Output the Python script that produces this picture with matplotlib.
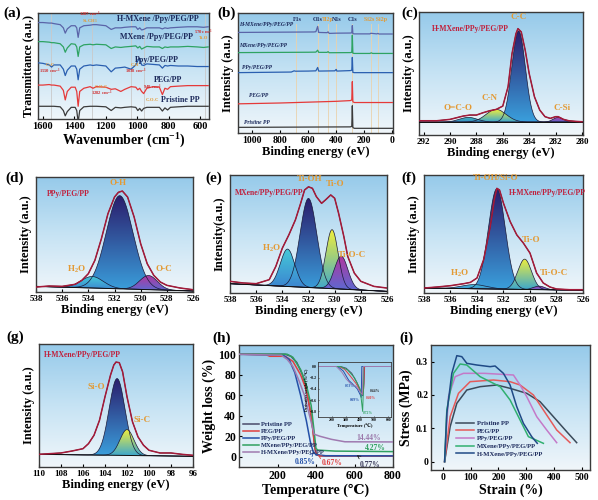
import numpy as np
import matplotlib
matplotlib.use('Agg')
import matplotlib.pyplot as plt
from matplotlib.colors import LinearSegmentedColormap
from matplotlib.patches import PathPatch

plt.rcParams['font.family'] = ['Liberation Serif', 'DejaVu Serif']
plt.rcParams['font.weight'] = 'bold'
plt.rcParams['axes.labelweight'] = 'bold'
plt.rcParams['mathtext.fontset'] = 'custom'
plt.rcParams['mathtext.rm'] = 'Liberation Serif:bold'
plt.rcParams['mathtext.it'] = 'Liberation Serif:bold:italic'
plt.rcParams['mathtext.bf'] = 'Liberation Serif:bold'

# ---------------- (a) FTIR ----------------
wn = [1630, 1600, 1560, 1545, 1530, 1490, 1470, 1458, 1445, 1420, 1395, 1385, 1376, 1366, 1340,
      1300, 1282, 1260, 1200, 1166, 1140, 1105, 1080, 1040, 1010, 997, 985, 973, 960, 940,
      900, 860, 841, 825, 808, 790, 740, 680, 620, 580, 550]
ftir_pp = [12, 12, 12, 12, 12, 11.5, 8, 3, 7, 11, 11, 8, -3, 8, 11.5,
           12, 12, 12, 11.5, 8, 11, 10.5, 11, 11.5, 11, 8, 10, 7.5, 10, 11,
           11, 11, 7.5, 10.5, 8.5, 11, 11.5, 12, 12, 12, 12]
ftir_peg = [32, 32, 32.5, 32, 32, 31, 27, 18, 26, 30, 30, 26, 12, 26, 29,
            30.5, 29, 30.5, 30, 28, 28.5, 26, 28, 30.5, 30, 27.5, 29, 26, 24, 29,
            30.5, 30, 23, 29, 28, 30.5, 31, 31.5, 31.5, 31.5, 31.5]
ftir_ppy = [53, 52.5, 51, 49, 51, 51, 47, 41, 46, 50, 50, 47, 37, 47, 50,
            51, 50.5, 51, 50, 44.5, 48, 48.5, 49, 47, 51, 55, 57, 51, 50.5, 52,
            51.5, 51, 48, 50.5, 50, 50.5, 50, 50, 49.5, 49.5, 49.5]
ftir_mx = [73, 73, 72.5, 72, 72, 71, 68, 63, 67, 71, 70.5, 68, 59, 68, 70,
           70.5, 70, 70.5, 70, 66.5, 68, 67.5, 68, 68.5, 69, 67, 68.5, 66, 67, 68.5,
           68, 68, 66.5, 68, 67.5, 68, 68, 68.5, 68, 67.5, 68]
ftir_hmx = [91, 91, 90.5, 90.5, 90, 89, 86, 81, 85, 88, 88, 86, 77, 86, 88,
            88.5, 89, 89, 88, 84.5, 86, 86, 86.5, 87, 87, 84.5, 86, 84, 84.5, 86,
            86, 86, 85, 86, 85.5, 86, 86.5, 87, 87, 86.5, 87]
ftir_guides = [1550, 1287, 1038, 960, 570]

# ---------------- (b) XPS survey ----------------
sv_pp_x = [1100, 700, 500, 300, 289, 285, 281, 270, 0]
sv_pp_y = [4.7, 4.9, 5.0, 5.1, 5.5, 22.7, 4.5, 3.9, 3.9]
sv_peg_x = [1100, 800, 600, 400, 300, 289, 285, 281, 270, 0]
sv_peg_y = [24.3, 25.0, 25.7, 26.4, 27.0, 27.5, 42.8, 26.0, 25.4, 25.4]
sv_ppy_x = [1100, 720, 700, 690, 600, 545, 532, 525, 410, 400, 395, 300, 289, 285, 281, 270, 0]
sv_ppy_y = [50.3, 50.8, 51.8, 51.5, 51.6, 51.8, 54.6, 51.6, 51.8, 53.0, 51.6, 52.0, 52.3, 63.0, 50.5, 50.3, 50.3]
sv_mx_x = [1100, 600, 545, 532, 525, 465, 458, 450, 300, 289, 285, 281, 270, 160, 150, 140, 0]
sv_mx_y = [67.0, 67.3, 67.4, 69.0, 67.2, 67.2, 67.8, 66.9, 67.0, 67.2, 81.5, 66.5, 66.3, 66.3, 66.8, 66.3, 66.3]
sv_hmx_x = [1100, 560, 545, 532, 525, 465, 458, 450, 400, 300, 289, 285, 281, 270, 160, 153, 110, 102, 95, 0]
sv_hmx_y = [83.8, 84.2, 84.4, 88.8, 83.8, 83.6, 84.3, 83.0, 83.2, 83.3, 83.5, 89.5, 82.8, 82.6, 82.6, 83.1, 82.6, 83.0, 82.5, 82.5]
sv_lines = [686, 532, 458, 400, 285, 153, 102]
sv_peak_names = ['F1s', 'O1s', 'Ti2p', 'N1s', 'C1s', 'Si2s Si2p']
sv_peak_pos = [675, 535, 462, 395, 282, 120]

# ---------------- (c) C1s ----------------
c_env_x = [292.3, 291, 290, 289, 288.5, 288, 287.5, 287, 286.5, 286, 285.6, 285.3, 285, 284.85,
           284.6, 284.3, 284, 283.6, 283.2, 282.8, 282.4, 282, 281.8, 281.4, 281, 280.5, 280]
c_env_y = [0.116, 0.116, 0.127, 0.154, 0.162, 0.162, 0.181, 0.197, 0.208, 0.235, 0.392, 0.662, 0.824, 0.865,
           0.838, 0.689, 0.5, 0.311, 0.203, 0.149, 0.135, 0.149, 0.149, 0.127, 0.116, 0.111, 0.108]
c_bg = (0.105, 0.105)
c_names = ['C-C', 'C-N', 'O=C-O', 'C-Si']
c_center = [284.8, 286.5, 288.6, 281.8]
c_height = [0.741, 0.103, 0.038, 0.038]
c_fwhm = [1.2, 1.8, 1.6, 0.9]

# ---------------- (d) O1s PPy/PEG/PP ----------------
d_env_x = [538, 537, 536, 535, 534.5, 534, 533.5, 533, 532.5, 532, 531.7, 531.4, 531, 530.5,
           530, 529.5, 529, 528.5, 528, 527, 526]
d_env_y = [0.043, 0.052, 0.049, 0.067, 0.101, 0.159, 0.275, 0.464, 0.681, 0.826, 0.867, 0.878, 0.826, 0.652,
           0.42, 0.246, 0.145, 0.087, 0.058, 0.035, 0.02]
d_bg = (0.049, 0.009)
d_names = ['O-H', 'H$_2$O', 'O-C']
d_center = [531.6, 533.7, 529.4]
d_height = [0.81, 0.10, 0.123]
d_fwhm = [2.4, 2.0, 1.6]

# ---------------- (e) O1s MXene/PPy/PEG/PP ----------------
e_env_x = [538, 537, 536, 535, 534.5, 534, 533.5, 533, 532.6, 532.3, 532, 531.7, 531.4, 531,
           530.7, 530.3, 530, 529.7, 529.3, 529, 528.5, 528, 527, 526]
e_env_y = [0.099, 0.085, 0.079, 0.113, 0.225, 0.38, 0.493, 0.62, 0.76, 0.873, 0.9, 0.887, 0.817, 0.76,
           0.789, 0.831, 0.803, 0.676, 0.479, 0.31, 0.169, 0.099, 0.056, 0.042]
e_bg = (0.079, 0.014)
e_names = ['Ti-OH', 'H$_2$O', 'Ti-O', 'Ti-O-C']
e_center = [532.0, 533.6, 530.2, 529.5]
e_height = [0.755, 0.317, 0.50, 0.28]
e_fwhm = [1.5, 1.3, 1.1, 1.2]

# ---------------- (f) O1s H-MXene/PPy/PEG/PP ----------------
f_env_x = [538, 537, 536, 535, 534.5, 534, 533.5, 533, 532.7, 532.5, 532.3, 532, 531.5, 531,
           530.5, 530, 529.5, 529, 528.5, 528, 527, 526]
f_env_y = [0.042, 0.051, 0.062, 0.079, 0.09, 0.127, 0.282, 0.563, 0.789, 0.887, 0.873, 0.76, 0.606, 0.493,
           0.423, 0.338, 0.169, 0.085, 0.051, 0.034, 0.028, 0.028]
f_bg = (0.042, 0.023)
f_names = ['Ti-OH/Si-O', 'H$_2$O', 'Ti-O', 'Ti-O-C']
f_center = [532.5, 534.2, 530.4, 529.3]
f_height = [0.85, 0.035, 0.257, 0.03]
f_fwhm = [1.5, 2.2, 1.2, 1.0]

# ---------------- (g) Si2p ----------------
g_env_x = [110, 108, 107, 106, 105.5, 105, 104.5, 104, 103.5, 103.2, 103, 102.7, 102.4, 102,
           101.5, 101, 100.5, 100, 99, 98, 97, 96]
g_env_y = [0.103, 0.114, 0.13, 0.149, 0.19, 0.258, 0.38, 0.571, 0.747, 0.829, 0.853, 0.848, 0.774, 0.571,
           0.367, 0.245, 0.177, 0.136, 0.114, 0.114, 0.103, 0.095]
g_bg = (0.103, 0.087)
g_names = ['Si-O', 'Si-C']
g_center = [102.9, 102.0]
g_height = [0.624, 0.21]
g_fwhm = [1.7, 1.5]

# ---------------- (h) TGA ----------------
tga_names = ['Pristine PP', 'PEG/PP', 'PPy/PEG/PP', 'MXene/PPy/PEG/PP', 'H-MXene/PPy/PEG/PP']
tga_pp_t = [0, 240, 270, 300, 330, 350, 370, 385, 395, 400, 420, 500, 800]
tga_pp_w = [100, 100, 98, 92, 80, 65, 45, 25, 8, 2, 0.9, 0.8, 0.77]
tga_peg_t = [0, 140, 160, 240, 280, 320, 350, 375, 390, 400, 420, 800]
tga_peg_w = [100, 99.5, 98, 98, 93, 80, 65, 40, 15, 3, 1, 0.67]
tga_ppy_t = [0, 230, 260, 290, 320, 350, 370, 385, 400, 450, 800]
tga_ppy_w = [100, 99, 95, 82, 60, 35, 15, 5, 2, 1, 0.85]
tga_mx_t = [0, 250, 280, 320, 350, 375, 390, 400, 410, 500, 800]
tga_mx_w = [100, 100, 97, 85, 70, 50, 25, 8, 6.5, 5.5, 5.0]
tga_hmx_t = [0, 220, 250, 280, 310, 340, 360, 380, 390, 420, 480, 550, 800]
tga_hmx_w = [100, 99, 95, 88, 75, 60, 45, 30, 22, 20, 17, 14.6, 14.44]

dtg_pp_t = [100, 260, 300, 340, 380, 410, 420, 428, 432, 620]
dtg_pp_v = [0, 0, -0.03, -0.12, -0.30, -0.50, -0.52, -0.30, 0, 0]
dtg_peg_t = [100, 250, 290, 330, 370, 400, 415, 425, 430, 620]
dtg_peg_v = [0, 0, -0.05, -0.17, -0.30, -0.42, -0.50, -0.40, 0, 0]
dtg_ppy_t = [100, 240, 280, 320, 350, 380, 400, 408, 412, 620]
dtg_ppy_v = [0, 0, -0.08, -0.25, -0.32, -0.40, -0.50, -0.55, 0, 0]
dtg_mx_t = [100, 260, 310, 360, 400, 418, 422, 424, 620]
dtg_mx_v = [0, 0, -0.06, -0.20, -0.40, -0.80, -0.50, 0, 0]
dtg_hmx_t = [100, 230, 270, 300, 330, 370, 400, 415, 422, 620]
dtg_hmx_v = [0, 0, -0.10, -0.22, -0.30, -0.35, -0.45, -0.50, 0, 0]

# ---------------- (i) stress-strain ----------------
ss_pp_x = [6, 26, 50, 86, 134, 194, 242, 302, 350, 398, 446, 482]
ss_pp_y = [0, 0.105, 0.175, 0.215, 0.225, 0.23, 0.22, 0.205, 0.18, 0.135, 0.09, 0.057]
ss_peg_x = [6, 26, 56, 98, 182, 242, 278, 326, 362, 410, 458]
ss_peg_y = [0, 0.135, 0.205, 0.24, 0.245, 0.24, 0.23, 0.2, 0.155, 0.095, 0.057]
ss_ppy_x = [6, 20, 44, 74, 150, 254, 278, 302, 338, 374, 410]
ss_ppy_y = [0, 0.195, 0.255, 0.265, 0.265, 0.26, 0.23, 0.195, 0.135, 0.095, 0.057]
ss_mx_x = [6, 14, 38, 62, 86, 134, 206, 242, 278, 308, 362]
ss_mx_y = [0, 0.155, 0.265, 0.293, 0.29, 0.255, 0.225, 0.185, 0.125, 0.075, 0.055]
ss_hmx_x = [6, 14, 32, 50, 68, 86, 122, 170, 188, 218, 242, 266, 290, 320, 340]
ss_hmx_y = [0, 0.145, 0.265, 0.318, 0.315, 0.295, 0.29, 0.285, 0.287, 0.265, 0.23, 0.165, 0.115, 0.075, 0.055]

# ---------------- styles ----------------
W, H = 598, 500
NAVY = '#1c2a5c'
GOLD = '#e39a34'
RED = '#d02c2c'
SAMPLE = '#c0203c'
ENV = '#a51a3a'
c5 = ['#3b3b3b', '#e53a3a', '#2a5fb0', '#2ea363', '#5a64a8']  # pp, peg, ppy, mx, hmx (a, b)
t5 = ['#4a4a6a', '#e04040', '#2450a8', '#30a060', '#a07ab0']   # (h)
s5 = ['#3a4a5a', '#e55a5a', '#c479c8', '#30b070', '#1f4a86']   # (i)

bg_cmap = LinearSegmentedColormap.from_list('bg', ['#f0f6fa', '#c6e3f4', '#96caea'])

NAVY_G = ('#2b1d6c', '#3a9fdc')
YEL_G = ('#f2ef3a', '#3aa6cf')
CYAN_G = ('#45cad8', '#3b7fd0')
MAG_G = ('#b2379e', '#5b6ad2')
TEAL_G = ('#3ab3b6', '#3a8fc8')

fig = plt.figure(figsize=(W / 100, H / 100), dpi=100)


def px_axes(l, t, r, b):
    return fig.add_axes([l / W, 1 - b / H, (r - l) / W, (b - t) / H])


def style(ax, xlim, ylim, fs=7):
    g = np.linspace(0, 1, 256).reshape(-1, 1)
    ax.imshow(g, extent=[0, 1, 0, 1], transform=ax.transAxes, origin='lower',
              cmap=bg_cmap, aspect='auto', zorder=0, interpolation='bilinear')
    ax.set_xlim(*xlim)
    ax.set_ylim(*ylim)
    for s in ax.spines.values():
        s.set_color('#3a3a3a')
        s.set_linewidth(1.0)
    ax.tick_params(labelsize=fs, length=2, width=0.8, direction='in', pad=2)


def gauss(x, c, h, fwhm):
    return h * np.exp(-4 * np.log(2) * ((x - c) / fwhm) ** 2)


def comp_fill(ax, x, base, yc, grad):
    top = base + yc
    coll = ax.fill_between(x, base, top, facecolor='none', edgecolor='none')
    patch = PathPatch(coll.get_paths()[0], transform=ax.transData,
                      facecolor='none', edgecolor='none')
    ax.add_patch(patch)
    cm = LinearSegmentedColormap.from_list('c', [grad[1], grad[0]])
    g = np.linspace(0, 1, 128).reshape(-1, 1)
    im = ax.imshow(g, extent=[x.min(), x.max(), base.min(), top.max()], origin='lower',
                   cmap=cm, aspect='auto', zorder=2, interpolation='bilinear')
    im.set_clip_path(patch)
    ax.plot(x, top, color='#1a1a3a', lw=0.5, zorder=3)


def xps_panel(ax, xlim, ticks, env_x, env_y, bgl, centers, heights, fwhms, grads):
    x = np.linspace(min(xlim), max(xlim), 600)
    base = np.interp(x, [min(xlim), max(xlim)], [bgl[1], bgl[0]])
    order = np.argsort(heights)[::-1]
    for k in order:
        comp_fill(ax, x, base, gauss(x, centers[k], heights[k], fwhms[k]), grads[k])
    ax.plot(x, base, color='#111111', lw=0.7, zorder=3)
    ax.plot(env_x, env_y, color='#222222', lw=0.6, zorder=4)
    ax.plot(env_x, env_y, color=ENV, lw=1.1, zorder=5)
    style(ax, xlim, (0, 1), fs=6.5)
    ax.set_xticks(ticks)
    ax.set_yticks([])
    ax.set_xlabel('Binding energy (eV)', fontsize=9, labelpad=1)


# ---------------- (a) ----------------
ax = px_axes(38, 13, 209, 119)
for gx in ftir_guides:
    ax.axvline(gx, color='#c9c9c9', lw=0.6, zorder=1)
for ys, col in zip([ftir_pp, ftir_peg, ftir_ppy, ftir_mx, ftir_hmx], c5):
    ax.plot(wn, ys, color=col, lw=0.9, zorder=3)
style(ax, (1631, 545), (0, 100), fs=7.5)
ax.set_xticks([1600, 1400, 1200, 1000, 800, 600])
ax.set_yticks([])
ax.set_xlabel('Wavenumber (cm$^{-1}$)', fontsize=10, labelpad=1)
ax.set_ylabel('Transmittance (a.u.)', fontsize=8.5, labelpad=3)
lab = dict(fontsize=5.8, color=NAVY, zorder=6)
ax.text(612, 94.5, 'H-MXene /Ppy/PEG/PP', ha='right', va='center', **lab)
ax.text(645, 77.5, 'MXene /Ppy/PEG/PP', ha='right', va='center', **lab)
ax.text(877, 56, 'Ppy/PEG/PP', ha='center', va='center', **lab)
ax.text(804, 37, 'PEG/PP', ha='center', va='center', **lab)
ax.text(728, 18, 'Pristine PP', ha='center', va='center', **lab)
sm = dict(fontsize=3.3, zorder=6, ha='center', va='center')
ax.text(1300, 98.6, '1287 cm$^{-1}$', color=RED, **sm)
ax.text(1300, 92.0, 'Si-CH$_3$', color=GOLD, **sm)
ax.text(578, 82, '570 cm$^{-1}$', color=RED, **sm)
ax.text(578, 76, 'Ti-O', color=GOLD, **sm)
ax.text(1555, 50.5, 'C=C', color=GOLD, **sm)
ax.text(1555, 45, '1550 cm$^{-1}$', color=RED, **sm)
ax.text(1012, 50.5, 'C-H', color=GOLD, **sm)
ax.text(1012, 45, '1038 cm$^{-1}$', color=RED, **sm)
ax.text(1228, 30, 'C-O-C', color=GOLD, **sm)
ax.text(1228, 24.5, '1282 cm$^{-1}$', color=RED, **sm)
ax.text(905, 30, '948 cm$^{-1}$', color=RED, **sm)
ax.text(905, 18, 'C-O-C', color=GOLD, **sm)

# ---------------- (b) ----------------
ax = px_axes(238, 13, 393, 133)
for gx in sv_lines:
    ax.plot([gx, gx], [0, 91], color='#ead2ac', lw=0.6, zorder=1)
for xs, ys, col in zip([sv_pp_x, sv_peg_x, sv_ppy_x, sv_mx_x, sv_hmx_x],
                       [sv_pp_y, sv_peg_y, sv_ppy_y, sv_mx_y, sv_hmx_y], c5):
    ax.plot(xs, ys, color=col, lw=0.9, zorder=3)
style(ax, (1100, -5), (0, 100), fs=7)
ax.set_xticks([1000, 800, 600, 400, 200, 0])
ax.set_yticks([])
ax.set_xlabel('Binding energy (eV)', fontsize=9, labelpad=1)
ax.set_ylabel('Intensity (a.u.)', fontsize=9, labelpad=3)
for nm, px in zip(sv_peak_names, sv_peak_pos):
    col = GOLD if nm.startswith(('Ti', 'Si')) else NAVY
    ax.text(px, 94.5, nm, color=col, fontsize=4.3, ha='center', va='center', zorder=6)
sl = dict(fontsize=4.0, color=NAVY, ha='left', va='center', zorder=6, style='italic')
ax.text(1090, 90.5, 'H-MXene/PPy/PEG/PP', **sl)
ax.text(1090, 72.5, 'MXene/PPy/PEG/PP', **sl)
ax.text(1070, 54.7, 'PPy/PEG/PP', **sl)
ax.text(1020, 31.2, 'PEG/PP', **sl)
ax.text(1060, 8.8, 'Pristine PP', **sl)

# ---------------- (c) ----------------
ax = px_axes(419, 12, 583, 135)
xps_panel(ax, (292.35, 279.92), [292, 290, 288, 286, 284, 282, 280], c_env_x, c_env_y, c_bg,
          c_center, c_height, c_fwhm, [NAVY_G, YEL_G, TEAL_G, MAG_G])
ax.set_ylabel('Intensity (a.u.)', fontsize=9, labelpad=3)
ax.text(291.4, 0.86, 'H-MXene/PPy/PEG/PP', color=SAMPLE, fontsize=5.5, ha='left', va='center', zorder=6)
cl = dict(color=GOLD, fontsize=6.5, ha='center', va='center', zorder=6)
ax.text(284.8, 0.96, 'C-C', **cl)
ax.text(287.0, 0.30, 'C-N', **cl)
ax.text(289.4, 0.22, 'O=C-O', **cl)
ax.text(281.5, 0.22, 'C-Si', **cl)

# ---------------- (d) ----------------
ax = px_axes(36, 177, 193, 292)
xps_panel(ax, (538, 526), [538, 536, 534, 532, 530, 528, 526], d_env_x, d_env_y, d_bg,
          d_center, d_height, d_fwhm, [NAVY_G, CYAN_G, MAG_G])
ax.set_ylabel('Intensity (a.u.)', fontsize=9, labelpad=3)
ax.text(537.2, 0.855, 'PPy/PEG/PP', color=SAMPLE, fontsize=5.5, ha='left', va='center', zorder=6)
ax.text(531.7, 0.95, 'O-H', **cl)
ax.text(534.9, 0.20, 'H$_2$O', **cl)
ax.text(528.2, 0.20, 'O-C', **cl)

# ---------------- (e) ----------------
ax = px_axes(230, 175, 387, 293)
xps_panel(ax, (538, 526), [538, 536, 534, 532, 530, 528, 526], e_env_x, e_env_y, e_bg,
          e_center, e_height, e_fwhm, [NAVY_G, CYAN_G, YEL_G, MAG_G])
ax.set_ylabel('Intensity(a.u.)', fontsize=9, labelpad=3)
ax.text(537.6, 0.845, 'MXene/PPy/PEG/PP', color=SAMPLE, fontsize=5.5, ha='left', va='center', zorder=6)
ax.text(531.9, 0.965, 'Ti-OH', **cl)
ax.text(530.0, 0.925, 'Ti-O', **cl)
ax.text(534.8, 0.38, 'H$_2$O', **cl)
ax.text(528.7, 0.32, 'Ti-O-C', **cl)

# ---------------- (f) ----------------
ax = px_axes(424, 175, 583, 293)
xps_panel(ax, (538, 526), [538, 536, 534, 532, 530, 528, 526], f_env_x, f_env_y, f_bg,
          f_center, f_height, f_fwhm, [NAVY_G, CYAN_G, YEL_G, MAG_G])
ax.set_ylabel('Intensity (a.u.)', fontsize=9, labelpad=3)
ax.text(531.6, 0.845, 'H-MXene/PPy/PEG/PP', color=SAMPLE, fontsize=5.5, ha='left', va='center', zorder=6)
ax.text(532.6, 0.975, 'Ti-OH/Si-O', **cl)
ax.text(529.9, 0.45, 'Ti-O', **cl)
ax.text(535.3, 0.17, 'H$_2$O', **cl)
ax.text(528.2, 0.17, 'Ti-O-C', **cl)

# ---------------- (g) ----------------
ax = px_axes(39, 344, 193, 467)
xps_panel(ax, (110, 96), [110, 108, 106, 104, 102, 100, 98, 96], g_env_x, g_env_y, g_bg,
          g_center, g_height, g_fwhm, [NAVY_G, YEL_G])
ax.set_ylabel('Intensity (a.u.)', fontsize=9, labelpad=3)
ax.text(109.6, 0.91, 'H-MXene/PPy/PEG/PP', color=SAMPLE, fontsize=5.5, ha='left', va='center', zorder=6)
ax.text(104.8, 0.65, 'Si-O', **cl)
ax.text(100.6, 0.38, 'Si-C', **cl)

# ---------------- (h) ----------------
ax = px_axes(239, 345, 393, 467)
for ts, ws, col, nm in zip([tga_pp_t, tga_peg_t, tga_ppy_t, tga_mx_t, tga_hmx_t],
                           [tga_pp_w, tga_peg_w, tga_ppy_w, tga_mx_w, tga_hmx_w], t5, tga_names):
    ax.plot(ts, ws, color=col, lw=1.1, label=nm, zorder=3)
style(ax, (0, 800), (-10, 109), fs=8.5)
ax.set_xticks([200, 400, 600, 800])
ax.set_yticks([0, 20, 40, 60, 80, 100])
ax.set_xlabel('Temperature (℃)', fontsize=10, labelpad=1)
ax.set_ylabel('Weight loss (%)', fontsize=10, labelpad=2)
leg = ax.legend(loc='lower left', bbox_to_anchor=(0.0, 0.06), fontsize=4.6, frameon=False,
                handlelength=2.4, labelspacing=0.25, borderpad=0.2, handletextpad=0.4)
for t in leg.get_texts():
    t.set_color(NAVY)
ax.text(673, 18, '14.44%', color='#9a78aa', fontsize=5.5, ha='center', va='center')
ax.text(708, 8.4, '4.27%', color='#30a060', fontsize=5.5, ha='center', va='center')
ax.annotate('0.85%', xy=(388, 4), xytext=(343, -5), color='#2450a8', fontsize=5.5,
            ha='center', va='center', arrowprops=dict(arrowstyle='->', color='#2450a8', lw=0.6))
ax.annotate('0.67%', xy=(410, 1.5), xytext=(482, -6.5), color='#e04040', fontsize=5.5,
            ha='center', va='center', arrowprops=dict(arrowstyle='->', color='#e04040', lw=0.6))
ax.annotate('0.77%', xy=(612, 1.5), xytext=(682, -8), color='#3a3a5a', fontsize=5.5,
            ha='center', va='center', arrowprops=dict(arrowstyle='->', color='#222222', lw=0.6))

ins = px_axes(318, 362, 391, 417)
ins.set_facecolor('none')
for ts, vs, col in zip([dtg_pp_t, dtg_peg_t, dtg_ppy_t, dtg_mx_t, dtg_hmx_t],
                       [dtg_pp_v, dtg_peg_v, dtg_ppy_v, dtg_mx_v, dtg_hmx_v], t5):
    ins.plot(ts, vs, color=col, lw=0.7)
ins.set_xlim(100, 620)
ins.set_ylim(-0.9, 0.08)
ins.set_xticks([200, 300, 400, 500, 600])
ins.set_yticks([0, -0.2, -0.4, -0.6, -0.8])
ins.tick_params(labelsize=2.8, length=1, width=0.4, pad=1, direction='in')
for s in ins.spines.values():
    s.set_linewidth(0.6)
    s.set_color('#3a3a3a')
ins.set_xlabel('Temperature (℃)', fontsize=3.3, labelpad=0.5)
ins.set_ylabel('Derivative weight (%/℃)', fontsize=2.8, labelpad=0.5)
it = dict(fontsize=2.6, ha='center', va='center')
ins.text(330, -0.35, '0.53%', color='#2450a8', **it)
ins.text(505, -0.44, '0.44%', color='#222222', **it)
ins.text(480, -0.56, '0.40%', color='#e04040', **it)
ins.text(365, -0.60, '0.69%', color='#2450a8', **it)
ins.text(455, -0.82, '0.72%', color='#30a060', **it)

# ---------------- (i) ----------------
ax = px_axes(431, 345, 590, 470)
for xs, ys, col, nm in zip([ss_pp_x, ss_peg_x, ss_ppy_x, ss_mx_x, ss_hmx_x],
                           [ss_pp_y, ss_peg_y, ss_ppy_y, ss_mx_y, ss_hmx_y], s5, tga_names):
    ax.plot(xs, ys, color=col, lw=1.1, label=nm, zorder=3)
style(ax, (-43, 530), (-0.025, 0.35), fs=7)
ax.set_xticks([0, 100, 200, 300, 400, 500])
ax.set_yticks([0, 0.1, 0.2, 0.3])
ax.set_yticklabels(['0', '0.1', '0.2', '0.3'])
ax.set_xlabel('Strain (%)', fontsize=10, labelpad=1)
ax.set_ylabel('Stress (MPa)', fontsize=10, labelpad=2)
leg = ax.legend(loc='lower left', bbox_to_anchor=(0.13, 0.07), fontsize=4.8, frameon=False,
                handlelength=2.6, labelspacing=0.3, borderpad=0.2, handletextpad=0.5)
for t in leg.get_texts():
    t.set_color(NAVY)

# panel letters
for lt, px, py in [('(a)', 3, 13), ('(b)', 217, 13), ('(c)', 401, 13), ('(d)', 5, 178),
                   ('(e)', 205, 178), ('(f)', 401, 178), ('(g)', 6, 337), ('(h)', 212, 338),
                   ('(i)', 399, 338)]:
    fig.text(px / W, 1 - py / H, lt, fontsize=11, fontweight='bold', va='center', ha='left')

fig.savefig('out.png', dpi=100)
